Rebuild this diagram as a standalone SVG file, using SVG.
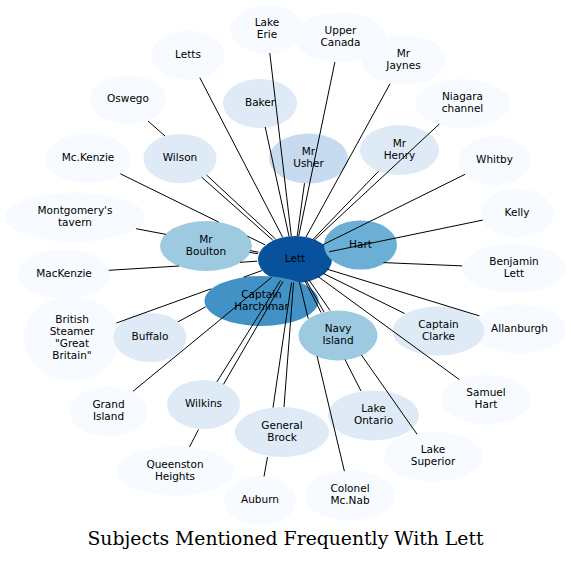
<svg xmlns="http://www.w3.org/2000/svg" width="571" height="561" viewBox="0 0 571 561">
<style>
.c0{fill:#f7fbff}.c1{fill:#deebf7}.c2{fill:#c6dbef}.c3{fill:#9ecae1}.c4{fill:#6baed6}.c5{fill:#4292c6}.c6{fill:#08519c}
text{font-family:"DejaVu Sans",sans-serif;font-size:10.5px;fill:#000;text-anchor:middle}
#nodes text{transform:translateY(-1px)}
.e path{fill:none;stroke:#000;stroke-width:1}
.title{font-family:"DejaVu Serif","Liberation Serif",serif;font-size:18px}
</style>
<rect width="571" height="561" fill="#fff"/>
<g id="nodes">
<g id="n-lake-erie"><ellipse class="c0" cx="267" cy="29.5" rx="36" ry="24.5"/><text x="267" y="27.4">Lake</text><text x="267" y="39.4">Erie</text></g>
<g id="n-letts"><ellipse class="c0" cx="188" cy="55" rx="36.5" ry="24.5"/><text x="188" y="58.8">Letts</text></g>
<g id="n-upper-canada"><ellipse class="c0" cx="340.5" cy="37.5" rx="45.5" ry="25"/><text x="340.5" y="35.3">Upper</text><text x="340.5" y="47.3">Canada</text></g>
<g id="n-mr-jaynes"><ellipse class="c0" cx="403.5" cy="60" rx="42" ry="25"/><text x="403.5" y="57.8">Mr</text><text x="403.5" y="69.8">Jaynes</text></g>
<g id="n-oswego"><ellipse class="c0" cx="128" cy="99.5" rx="38" ry="24.5"/><text x="128" y="103.3">Oswego</text></g>
<g id="n-niagara"><ellipse class="c0" cx="462.5" cy="103.5" rx="47.5" ry="24.5"/><text x="462.5" y="101.3">Niagara</text><text x="462.5" y="113.3">channel</text></g>
<g id="n-mckenzie"><ellipse class="c0" cx="88" cy="158.5" rx="43" ry="24.5"/><text x="88" y="162.3">Mc.Kenzie</text></g>
<g id="n-whitby"><ellipse class="c0" cx="494.5" cy="160.5" rx="36" ry="24.5"/><text x="494.5" y="164.3">Whitby</text></g>
<g id="n-montgomery"><ellipse class="c0" cx="75" cy="217" rx="70" ry="24.5"/><text x="75" y="214.8">Montgomery's</text><text x="75" y="226.8">tavern</text></g>
<g id="n-kelly"><ellipse class="c0" cx="517" cy="213" rx="36.5" ry="24.5"/><text x="517" y="216.8">Kelly</text></g>
<g id="n-benjamin-lett"><ellipse class="c0" cx="514" cy="268.5" rx="52" ry="24.5"/><text x="514" y="266.3">Benjamin</text><text x="514" y="278.3">Lett</text></g>
<g id="n-mackenzie"><ellipse class="c0" cx="64" cy="274" rx="46" ry="24.5"/><text x="64" y="277.8">MacKenzie</text></g>
<g id="n-british-steamer"><ellipse class="c0" cx="72" cy="338.5" rx="48" ry="42.5"/><text x="72" y="324.3">British</text><text x="72" y="336.3">Steamer</text><text x="72" y="348.3">"Great</text><text x="72" y="360.3">Britain"</text></g>
<g id="n-allanburgh"><ellipse class="c0" cx="519.5" cy="329" rx="46.5" ry="24.5"/><text x="519.5" y="332.8">Allanburgh</text></g>
<g id="n-samuel-hart"><ellipse class="c0" cx="486" cy="399.5" rx="45" ry="24.5"/><text x="486" y="397.3">Samuel</text><text x="486" y="409.3">Hart</text></g>
<g id="n-grand-island"><ellipse class="c0" cx="108.5" cy="411.5" rx="39" ry="25"/><text x="108.5" y="409.3">Grand</text><text x="108.5" y="421.3">Island</text></g>
<g id="n-lake-superior"><ellipse class="c0" cx="433" cy="456.5" rx="49" ry="25"/><text x="433" y="454.3">Lake</text><text x="433" y="466.3">Superior</text></g>
<g id="n-queenston"><ellipse class="c0" cx="175" cy="471" rx="58.5" ry="24.5"/><text x="175" y="468.8">Queenston</text><text x="175" y="480.8">Heights</text></g>
<g id="n-auburn"><ellipse class="c0" cx="260" cy="500.5" rx="36" ry="24.5"/><text x="260" y="504.3">Auburn</text></g>
<g id="n-colonel-mcnab"><ellipse class="c0" cx="350" cy="495.5" rx="45" ry="25"/><text x="350" y="493.3">Colonel</text><text x="350" y="505.3">Mc.Nab</text></g>
<g id="n-baker"><ellipse class="c1" cx="260" cy="103.5" rx="37" ry="24.5"/><text x="260" y="107.3">Baker</text></g>
<g id="n-wilson"><ellipse class="c1" cx="180" cy="158.5" rx="36.5" ry="24.5"/><text x="180" y="162.3">Wilson</text></g>
<g id="n-mr-henry"><ellipse class="c1" cx="399.5" cy="150" rx="39.5" ry="25"/><text x="399.5" y="147.8">Mr</text><text x="399.5" y="159.8">Henry</text></g>
<g id="n-buffalo"><ellipse class="c1" cx="150" cy="337.5" rx="36.5" ry="24.5"/><text x="150" y="341.3">Buffalo</text></g>
<g id="n-captain-clarke"><ellipse class="c1" cx="438.5" cy="331" rx="46" ry="24.5"/><text x="438.5" y="328.8">Captain</text><text x="438.5" y="340.8">Clarke</text></g>
<g id="n-wilkins"><ellipse class="c1" cx="203.5" cy="404.5" rx="36.5" ry="24.5"/><text x="203.5" y="408.3">Wilkins</text></g>
<g id="n-general-brock"><ellipse class="c1" cx="282" cy="432" rx="47" ry="25"/><text x="282" y="429.8">General</text><text x="282" y="441.8">Brock</text></g>
<g id="n-lake-ontario"><ellipse class="c1" cx="373.5" cy="415.5" rx="45.5" ry="25"/><text x="373.5" y="413.3">Lake</text><text x="373.5" y="425.3">Ontario</text></g>
<g id="n-mr-usher"><ellipse class="c2" cx="308.5" cy="158.5" rx="39.5" ry="25"/><text x="308.5" y="156.3">Mr</text><text x="308.5" y="168.3">Usher</text></g>
<g id="n-mr-boulton"><ellipse class="c3" cx="206" cy="246" rx="46" ry="25"/><text x="206" y="243.8">Mr</text><text x="206" y="255.8">Boulton</text></g>
<g id="n-navy-island"><ellipse class="c3" cx="338" cy="335.5" rx="39.5" ry="25"/><text x="338" y="333.3">Navy</text><text x="338" y="345.3">Island</text></g>
<g id="n-lett"><ellipse class="c6" cx="295" cy="259.5" rx="37" ry="23.5"/><text x="295" y="263.3">Lett</text></g>
<g id="n-hart"><ellipse class="c4" cx="360.5" cy="245" rx="36.5" ry="24.5"/><text x="360.5" y="248.8">Hart</text></g>
<g id="n-captain-harchimar"><ellipse class="c5" cx="261.5" cy="301" rx="57" ry="25"/><text x="261.5" y="298.8">Captain</text><text x="261.5" y="310.8">Harchimar</text></g>
</g>
<g id="connectors" class="e">
<path d="M269.8,53 L291.3,236.2"/>
<path d="M199.8,77.7 L282.6,237.1"/>
<path d="M334.9,62 L298.7,236.2"/>
<path d="M390,83.8 L305.9,237.2"/>
<path d="M265.2,127 L289,236.3"/>
<path d="M439.4,124 L314.6,239.9"/>
<path d="M304.5,183.2 L297.2,236.1"/>
<path d="M378.5,171.3 L313,239.3"/>
<path d="M465.1,174.3 L323,244.7"/>
<path d="M482.7,220.1 L329.1,251.8"/>
<path d="M462.2,265.9 L383.4,262.6"/>
<path d="M479.4,315.9 L327.2,269.2"/>
<path d="M404.6,313.5 L323,273.3"/>
<path d="M459.5,379.7 L318,276.5"/>
<path d="M309,280 L330,310.5 M361.4,355 L417.1,434.3"/>
<path d="M305,281 L321,312.5 M345,359.6 L361,391"/>
<path d="M306.5,281 L324,312"/>
<path d="M299.4,281.8 L308.2,318.7 M317.1,356.2 L344.4,471.2"/>
<path d="M273,407.5 L291.5,282.5"/>
<path d="M284,407 L293.5,282.5"/>
<path d="M264,476.5 L267.5,457"/>
<path d="M216.9,381.9 L280.6,280.4"/>
<path d="M223.5,384.3 L283,281.5"/>
<path d="M189.5,447 L198.5,429.5"/>
<path d="M133,391.3 L271.7,277.3"/>
<path d="M177.9,321.9 L205.6,306.9"/>
<path d="M116.4,323 L211.2,288.8 M243.6,277.2 L262,270.5"/>
<path d="M108.7,270.3 L179,266 M240,262.3 L257.2,261.2"/>
<path d="M249.5,252.4 L258,253.7"/>
<path d="M136.1,228.7 L166,234.4 M250.2,250.6 L258.6,252.2"/>
<path d="M120.3,173.8 L218.6,222 M247.5,236.2 L265,244.8"/>
<path d="M201.7,177.2 L272.8,240.2"/>
<path d="M206.5,175 L275.5,239"/>
<path d="M148,121 L165,136"/>
</g>
<text class="title" x="285.5" y="545" textLength="396" lengthAdjust="spacingAndGlyphs">Subjects Mentioned Frequently With Lett</text>
</svg>
